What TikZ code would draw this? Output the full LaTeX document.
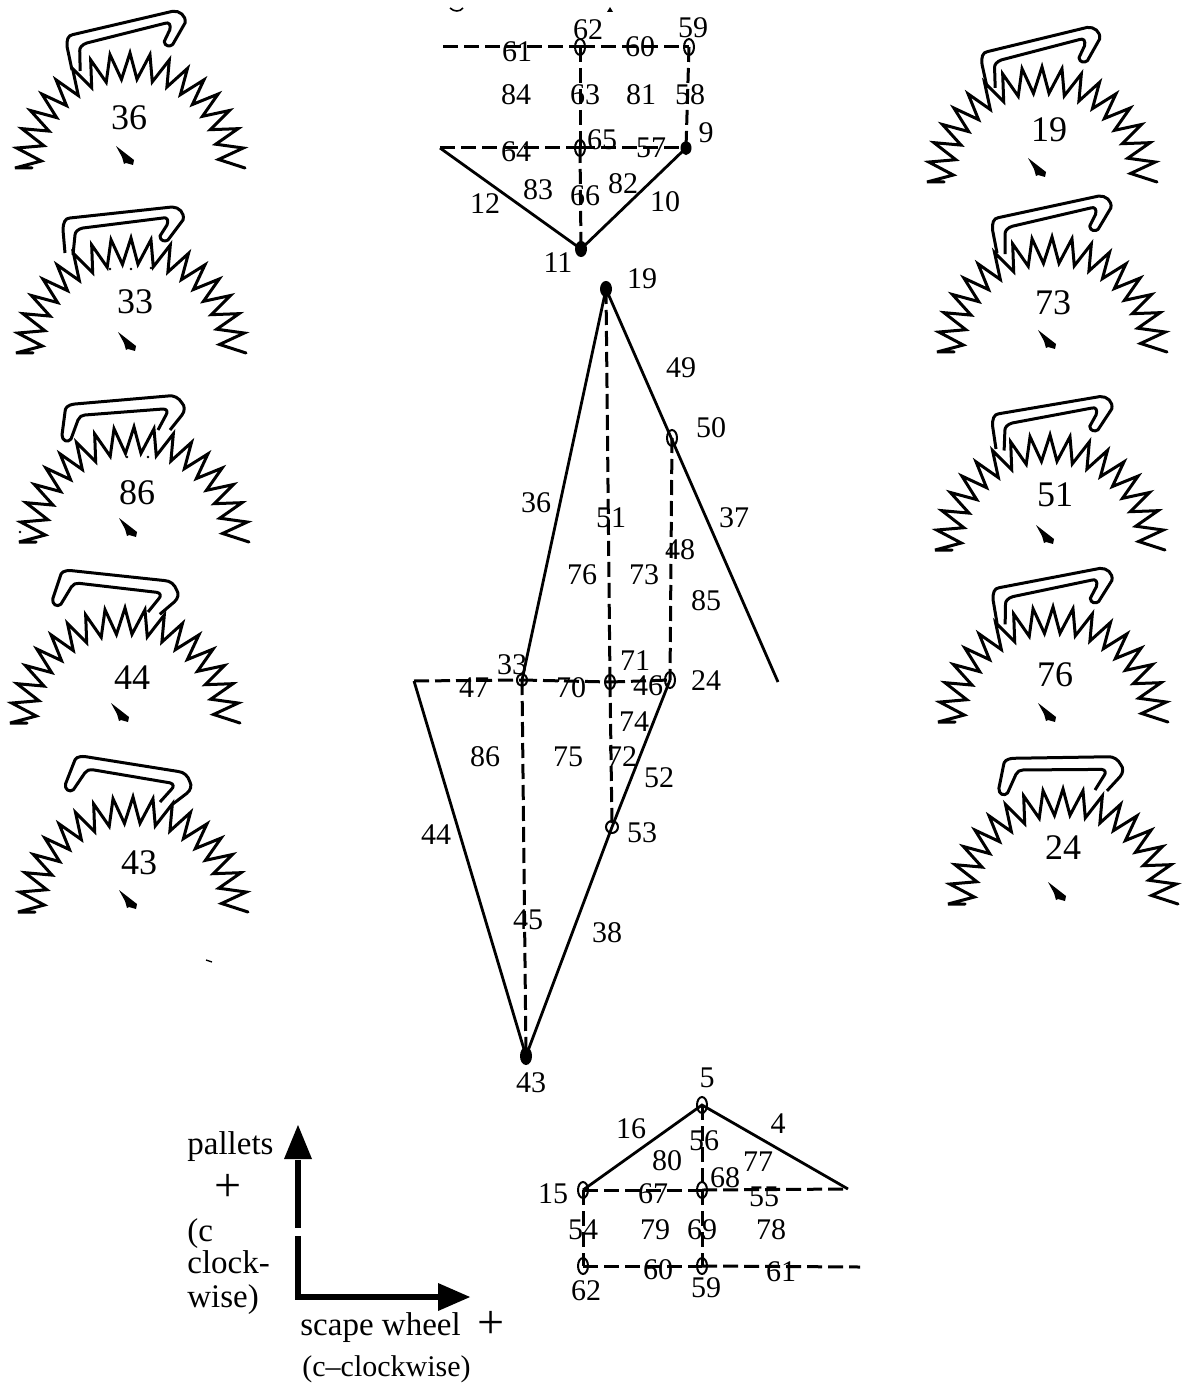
\documentclass[tikz,border=0pt]{standalone}
\usepackage{fontspec}
\setmainfont{Liberation Serif}
\usetikzlibrary{shapes.geometric}
\tikzset{
  gearline/.style={line width=1.5pt,line join=miter,miter limit=4,line cap=round},
  palletline/.style={line width=1.5pt,line join=round},
  strut/.style={line width=1.4pt},
  dashline/.style={line width=1.5pt,dash pattern=on 7.5pt off 3pt},
  joint/.style={draw,line width=1pt,ellipse,inner sep=0pt,minimum width=5pt,minimum height=8pt},
  solidjoint/.style={joint,fill=black},
  num/.style={inner sep=0pt,font=\fontsize{15}{15}\selectfont},
  gearnum/.style={inner sep=0pt,font=\fontsize{18}{18}\selectfont},
  words/.style={inner sep=0pt,anchor=base west,font=\fontsize{16.5}{17}\selectfont},
  axis/.style={line width=2.6pt}
}
\begin{document}
\begin{tikzpicture}[x=0.5pt,y=-0.5pt]
\useasboundingbox (0,0) rectangle (1181,1384);
% escape-wheel panels
\foreach \cx/\cy/\lab/\lx/\ly/\ax/\ay in {
 130/168/36/129/118/125/156,
 131/353/33/135/302/127/342,
 134/542/86/137/493/128/528,
 125/723/44/132/678/120/713,
 133/912/43/139/863/128/900,
 1042/182/19/1049/130/1037/168,
 1052/352/73/1053/303/1047/340,
 1050/550/51/1055/495/1045/535,
 1053/722/76/1055/675/1047/713,
 1063/904/24/1063/848/1057/892}{
  \begin{scope}[shift={(\cx,\cy)}]
    \draw[gearline] (180:49pt) -- (180:57.5pt)
      \foreach \i in {1,...,18}{
        -- ({185.5-10*\i}:44.5pt) -- ({180-10*\i}:57.5pt)
      };
  \end{scope}
  \node[gearnum] (g\lab) at (\lx,\ly) {\lab};
  \begin{scope}[shift={(\ax,\ay)}]
    \fill (-9,-10) -- (9,4) -- (8,9) -- (1,7) -- (-1,8) -- (-3,1) -- cycle;
  \end{scope}
}
% pallets with the long leg on the left
\foreach \fx/\fy/\pr in {72/70/7, 65/253/0, 987/87/7.5, 997/253/6, 996/449/3.5, 997/623/4.7}{
  \begin{scope}[shift={(\fx,\fy)},rotate=\pr]
    \draw[palletline] (0,0) -- (-2,-23) .. controls (-2,-30) and (0,-35) .. (5,-35)
      -- (107,-46) .. controls (114,-46) and (120,-40) .. (118,-33)
      -- (103,-13) .. controls (100,-11) and (95,-12) .. (95,-17)
      -- (102,-28) .. controls (104,-33) and (102,-36) .. (98,-35)
      -- (18,-25) .. controls (13,-24) and (10,-21) .. (10,-18) -- (8,2);
  \end{scope}
}
% pallets with the hook on the left
\foreach \fx/\fy/\pr in {158/430/0, 148/612/-11, 160/802/-14, 1095/790/-4}{
  \begin{scope}[shift={(\fx,\fy)},rotate=\pr]
    \draw[palletline] (12,0) -- (24,-15) .. controls (27,-19) and (27,-24) .. (24,-27)
      .. controls (21,-32) and (16,-35) .. (10,-34)
      -- (-83,-26) .. controls (-91,-25) and (-93,-22) .. (-93,-18)
      -- (-96,5) .. controls (-96,11) and (-90,13) .. (-87,9)
      -- (-80,-10) .. controls (-79,-13) and (-76,-15) .. (-73,-15)
      -- (5,-21) .. controls (9,-21) and (10,-18) .. (8,-15) -- (0,0);
  \end{scope}
}
% specks in the scan
\foreach \x/\y in {110/269,131/269,151/268,127/457,148/457,20/532}{\fill (\x,\y) circle (0.7pt);}
\draw[line width=0.8pt] (450,8) .. controls (454,12) and (460,12) .. (463,8);
\fill (607,12) -- (613,12) -- (610,7) -- cycle;
\draw[line width=0.7pt] (206,960) -- (212,962);

% upper panel
\node[joint] (a62) at (580,47) {};
\node[joint] (a59) at (689,47) {};
\node[joint] (a65) at (580,148) {};
\node[solidjoint,minimum width=4.5pt,minimum height=6pt] (a9) at (686,148) {};
\node[solidjoint,minimum height=7pt] (a11) at (581,249) {};
\coordinate (aL1) at (443,47);
\coordinate (aL2) at (440,148);
\draw[dashline] (aL1) -- (a62.center);
\draw[dashline] (a62.center) -- (a59.center);
\draw[dashline] (aL2) -- (a65.center);
\draw[dashline] (a65.center) -- (a9.center);
\draw[dashline] (a62.center) -- (a65.center);
\draw[dashline] (a65.center) -- (a11.center);
\draw[dashline] (a59.center) -- (a9.center);
\draw[strut] (aL2) -- (a11.center) -- (a9.center);

% central panel
\node[solidjoint,minimum height=7pt] (b19) at (606,289) {};
\node[joint] (b50) at (672,438) {};
\node[joint,minimum height=6pt] (b33) at (522,680) {};
\node[joint,minimum height=7pt] (b46) at (610,682) {};
\node[joint] (b24) at (670,680) {};
\node[joint,minimum width=6pt,minimum height=6pt] (b53) at (612,827) {};
\node[solidjoint] (b43) at (526,1056) {};
\coordinate (bL) at (414,681);
\coordinate (bR) at (778,682);
\draw[strut] (b19.center) -- (b33.center);
\draw[strut] (b19.center) -- (bR);
\draw[dashline] (b19.center) -- (b46.center);
\draw[dashline] (b46.center) -- (b53.center);
\draw[dashline] (b50.center) -- (b24.center);
\draw[dashline] (bL) -- (b33.center);
\draw[dashline] (b33.center) -- (b46.center);
\draw[dashline] (b46.center) -- (b24.center);
\draw[dashline] (b33.center) -- (b43.center);
\draw[strut] (bL) -- (b43.center) -- (b53.center) -- (b24.center);

% lower panel
\node[joint] (c5) at (702,1105) {};
\node[joint] (c15) at (583,1190) {};
\node[joint] (c68) at (702,1190) {};
\node[joint] (c62) at (583,1266) {};
\node[joint] (c59) at (702,1266) {};
\coordinate (cR1) at (848,1189);
\coordinate (cR2) at (860,1267);
\draw[strut] (c15.center) -- (c5.center) -- (cR1);
\draw[dashline] (c15.center) -- (c68.center);
\draw[dashline] (c68.center) -- (cR1);
\draw[dashline] (c5.center) -- (c68.center);
\draw[dashline] (c68.center) -- (c59.center);
\draw[dashline] (c15.center) -- (c62.center);
\draw[dashline] (c62.center) -- (c59.center);
\draw[dashline] (c59.center) -- (cR2);

% number labels
\foreach \t/\x/\y in {
 61/517/52,62/588/30,60/640/47,59/693/28,84/516/95,63/585/95,81/641/95,58/690/95,
 65/602/140,64/516/152,57/651/148,9/706/133,83/538/190,66/585/196,82/623/184,10/665/202,
 12/485/204,11/558/263,19/642/279,
 49/681/368,50/711/428,36/536/503,51/611/518,37/734/518,48/680/550,76/582/575,73/644/575,
 85/706/601,33/512/665,71/635/661,47/474/688,70/571/688,46/648/686,24/706/681,74/634/722,
 86/485/757,75/568/757,72/622/757,52/659/778,44/436/835,53/642/833,45/528/920,38/607/933,
 43/531/1083,
 5/707/1078,16/631/1129,4/778/1124,56/704/1141,80/667/1161,77/758/1162,68/725/1178,
 15/553/1194,67/653/1194,55/764/1197,54/583/1230,79/655/1230,69/702/1230,78/771/1230,
 60/658/1270,61/781/1272,62/586/1291,59/706/1288}{
  \node[num] (n\x x\y) at (\x,\y) {\t};
}

% axes
\coordinate (o) at (298,1297);
\coordinate (up) at (298,1125);
\coordinate (right) at (470,1297);
\coordinate (gapA) at (298,1228);
\coordinate (gapB) at (298,1236);
\draw[axis] (298,1160) -- (gapA);
\draw[axis] (gapB) -- (o) -- (440,1297);
\fill (up) -- (312,1159) -- (284,1159) -- cycle;
\fill (right) -- (438,1283) -- (438,1311) -- cycle;
\node[words] (w1) at (187,1154) {pallets};
\node[inner sep=0pt,font=\fontsize{24}{24}\selectfont] (w2) at (228,1188) {+};
\node[words] (w3) at (187,1241) {(c};
\node[words] (w4) at (187,1273) {clock-};
\node[words] (w5) at (187,1307) {wise)};
\node[words] (w6) at (300,1335) {scape wheel};
\node[inner sep=0pt,font=\fontsize{24}{24}\selectfont] (w7) at (491,1325) {+};
\node[words,font=\fontsize{15}{15}\selectfont] (w8) at (302,1376) {(c--clockwise)};
\end{tikzpicture}
\end{document}
